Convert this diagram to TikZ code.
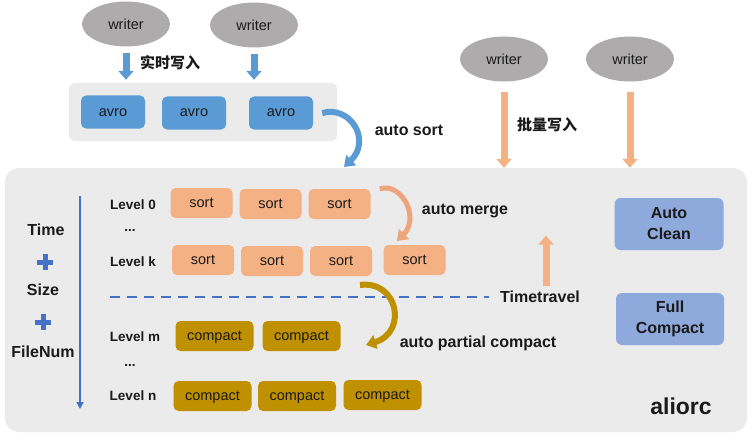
\documentclass[tikz,border=0pt]{standalone}
\usepackage{fontspec}
\setmainfont{Liberation Sans}
\newfontfamily\cjk{Noto Sans CJK SC}
\usetikzlibrary{arrows.meta,positioning,shapes.geometric}
\definecolor{wgray}{HTML}{ADABAB}
\definecolor{avroblue}{HTML}{5B9BD5}
\definecolor{sortorange}{HTML}{F4B183}
\definecolor{mergeorange}{HTML}{EDA57C}
\definecolor{compactgold}{HTML}{BF9000}
\definecolor{cleanblue}{HTML}{8EA9DB}
\definecolor{linkblue}{HTML}{4472C4}
\definecolor{bggray}{HTML}{EBEBEB}
\definecolor{ink}{HTML}{1A1A1A}
\begin{document}
\begin{tikzpicture}[x=1pt,y=-1pt,>=stealth,
  every node/.style={text=ink,font=\fontsize{14.5}{17}\selectfont},
  writer/.style={ellipse,fill=wgray,minimum width=88pt,minimum height=45pt,inner sep=0pt},
  file/.style={rounded corners=5pt,minimum width=64pt,minimum height=33pt,inner sep=0pt,
    text height=10pt,text depth=2pt},
  avro/.style={file,fill=avroblue},
  sortf/.style={file,fill=sortorange,minimum width=62pt,minimum height=30pt},
  compactf/.style={file,fill=compactgold,minimum width=78pt,minimum height=30pt},
  task/.style={rounded corners=6pt,fill=cleanblue,minimum width=109pt,minimum height=52pt,align=center,
    font=\bfseries\fontsize{16}{21}\selectfont},
  lbl/.style={font=\bfseries\fontsize{16}{19}\selectfont},
  lvl/.style={font=\bfseries\fontsize{13.5}{16}\selectfont},
  fat/.style={line width=7pt,-{Triangle[width=15pt,length=9pt]}},
  curvearrow/.style={line width=6pt,-{Triangle[width=14pt,length=10pt]}},
  plus/.style={minimum size=15pt,inner sep=0pt}]
\useasboundingbox (0,0) rectangle (750,436);
\node[fill=bggray,rounded corners=14pt,minimum width=742pt,minimum height=264pt] (lake) at (376,300) {};
\node[fill=bggray,rounded corners=6pt,minimum width=268pt,minimum height=58pt] (pool) at (203,112) {};
\node[writer] (w1) at (126,24) {writer};
\node[writer] (w2) at (254,25) {writer};
\node[writer] (w3) at (504,59) {writer};
\node[writer] (w4) at (630,59) {writer};
\node[avro] (a1) at (113,112) {avro};
\node[avro] (a2) at (194,113) {avro};
\node[avro] (a3) at (281,113) {avro};
\draw[fat,avroblue,shorten <=6pt,shorten >=3pt] (w1.south) -- (w1.south |- pool.north);
\draw[fat,avroblue,shorten <=6pt,shorten >=3pt] (w2.south) -- (w2.south |- pool.north);
\node[lbl,font=\cjk\bfseries\fontsize{15}{18}\selectfont] (rt) at (170,63) {实时写入};
\draw[fat,sortorange,shorten <=10pt] (w3.south) -- (w3.south |- lake.north);
\draw[fat,sortorange,shorten <=10pt] (w4.south) -- (w4.south |- lake.north);
\node[lbl,font=\cjk\bfseries\fontsize{15}{18}\selectfont] (pl) at (547,125) {批量写入};
\draw[curvearrow,avroblue] ([xshift=9pt]a3.east) .. controls (350,105) and (372,140) .. (344,167);
\node[lbl] (as) at (409,130) {auto sort};
\coordinate (ax0) at (80,196);
\coordinate (ax1) at (80,409);
\draw[linkblue,line width=1.6pt,-{Triangle[width=7pt,length=7pt]}] (ax0) -- (ax1);
\node[lbl] (time) at (46,230) {Time};
\node[plus] (p1) at (45,262) {};
\node[lbl] (size) at (43,290) {Size};
\node[plus] (p2) at (43,322) {};
\node[lbl] (fn) at (43,352) {FileNum};
\foreach \p in {p1,p2}
  \draw[linkblue,line width=5pt] (\p.west) -- (\p.east) (\p.north) -- (\p.south);
\node[lvl] (l0) at (133,205) {Level 0};
\node[lvl] (d1) at (130,230) {...};
\node[lvl] (lk) at (133,262) {Level k};
\node[lvl] (lm) at (135,337) {Level m};
\node[lvl] (d2) at (130,365) {...};
\node[lvl] (ln) at (133,396) {Level n};
\node[sortf] (s01) at (201.5,203) {sort};
\node[sortf] (s02) at (270.5,204) {sort};
\node[sortf] (s03) at (339.5,204) {sort};
\node[sortf] (sk1) at (203,260) {sort};
\node[sortf] (sk2) at (272,261) {sort};
\node[sortf] (sk3) at (341,261) {sort};
\node[sortf] (sk4) at (414.5,260) {sort};
\node[compactf] (cm1) at (214.5,336) {compact};
\node[compactf] (cm2) at (301.5,336) {compact};
\node[compactf] (cn1) at (212.5,396) {compact};
\node[compactf] (cn2) at (297,396) {compact};
\node[compactf] (cn3) at (382.5,395) {compact};
\draw[curvearrow,mergeorange,line width=5pt] ([xshift=9pt]s03.north east) .. controls (402,182) and (420,218) .. (397,241);
\node[lbl] (am) at (465,211) {auto merge};
\node[lbl] (tt) at (540,297) {Timetravel};
\draw[linkblue,line width=2pt,dash pattern=on 10pt off 7pt] (110,297) -- ([xshift=-8pt]tt.west);
\draw[fat,sortorange,shorten <=2pt] ([xshift=6pt]tt.north) -- ++(0,-52);
\draw[curvearrow,compactgold] (360,285) .. controls (398,280) and (408,332) .. (366,345);
\node[lbl] (apc) at (478,343) {auto partial compact};
\node[task] (clean) at (669,224) {Auto\\Clean};
\node[task,minimum width=108pt] (full) at (670,319) {Full\\Compact};
\node[font=\bfseries\fontsize{23}{26}\selectfont] (name) at (681,406) {aliorc};
\end{tikzpicture}
\end{document}
